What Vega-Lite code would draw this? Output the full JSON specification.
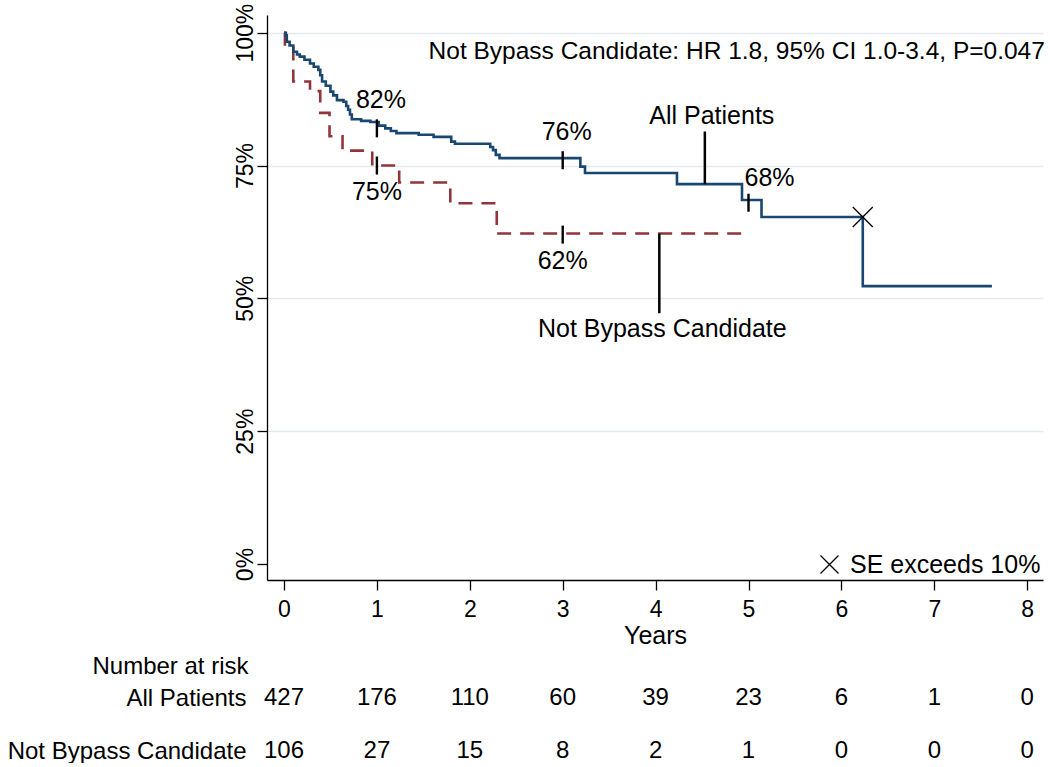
{
  "$schema": "https://vega.github.io/schema/vega-lite/v6.json",
  "autosize": {"type": "pad"},
  "padding": {"left": 7, "top": 3, "right": 0, "bottom": 0},
  "background": "white",
  "config": {
    "font": "Liberation Sans",
    "view": {"stroke": null},
    "text": {"font": "Liberation Sans", "color": "black"},
    "axis": {"labelFont": "Liberation Sans", "titleFont": "Liberation Sans", "labelColor": "black", "titleColor": "black", "domainColor": "black", "tickColor": "black", "domainWidth": 1.3, "tickWidth": 1.3, "labelLimit": 0},
    "legend": {"labelFont": "Liberation Sans", "labelLimit": 0}
  },
  "datasets": {
    "blue": [
      {"t": 0, "S": 100}, {"t": 0.02, "S": 99.5}, {"t": 0.03, "S": 98.3}, {"t": 0.06, "S": 97.6},
      {"t": 0.1, "S": 96.4}, {"t": 0.14, "S": 95.9}, {"t": 0.17, "S": 95.5}, {"t": 0.22, "S": 94.9},
      {"t": 0.28, "S": 94.2}, {"t": 0.32, "S": 93.6}, {"t": 0.37, "S": 93.0}, {"t": 0.39, "S": 92.0},
      {"t": 0.41, "S": 90.8}, {"t": 0.45, "S": 90.0}, {"t": 0.5, "S": 88.9}, {"t": 0.53, "S": 88.2},
      {"t": 0.57, "S": 87.3}, {"t": 0.64, "S": 87.0}, {"t": 0.67, "S": 86.2}, {"t": 0.69, "S": 85.5},
      {"t": 0.71, "S": 84.6}, {"t": 0.73, "S": 83.7}, {"t": 0.83, "S": 83.4}, {"t": 0.93, "S": 83.2},
      {"t": 1.02, "S": 82.5}, {"t": 1.09, "S": 82.0}, {"t": 1.15, "S": 81.5}, {"t": 1.21, "S": 81.1},
      {"t": 1.45, "S": 80.8}, {"t": 1.61, "S": 80.4}, {"t": 1.8, "S": 79.5}, {"t": 1.84, "S": 79.1},
      {"t": 2.22, "S": 78.5}, {"t": 2.25, "S": 77.9}, {"t": 2.28, "S": 77.0}, {"t": 2.32, "S": 76.4},
      {"t": 3.19, "S": 74.8}, {"t": 3.24, "S": 73.6}, {"t": 4.23, "S": 71.5}, {"t": 4.93, "S": 68.5},
      {"t": 5.14, "S": 65.3}, {"t": 6.23, "S": 52.3}, {"t": 7.62, "S": 52.3}
    ],
    "red": [
      {"t": 0, "S": 100}, {"t": 0.01, "S": 97.2}, {"t": 0.1, "S": 90.8}, {"t": 0.28, "S": 89.0},
      {"t": 0.39, "S": 84.9}, {"t": 0.49, "S": 80.5}, {"t": 0.63, "S": 77.8}, {"t": 0.95, "S": 75.0},
      {"t": 1.24, "S": 71.8}, {"t": 1.79, "S": 67.9}, {"t": 2.29, "S": 62.2}, {"t": 4.96, "S": 62.2}
    ],
    "marks": [
      {"t": 1, "S": 82, "lab": "82%", "pos": "above"},
      {"t": 3, "S": 76, "lab": "76%", "pos": "above"},
      {"t": 5, "S": 68, "lab": "68%", "pos": "right"},
      {"t": 1, "S": 75, "lab": "75%", "pos": "below"},
      {"t": 3, "S": 62, "lab": "62%", "pos": "below"}
    ],
    "leaders": [
      {"t": 4.53, "S": 71.5, "S2": 81.4, "lab": "All Patients", "side": "up"},
      {"t": 4.04, "S": 62.2, "S2": 47.2, "lab": "Not Bypass Candidate", "side": "down"}
    ],
    "note": [{"t": 8.19, "S": 95, "lab": "Not Bypass Candidate: HR 1.8, 95% CI 1.0-3.4, P=0.047"}],
    "se": [{"t": 6.23, "S": 65.3, "note": "SE exceeds 10%"}],
    "risk": [
      {"grp": "All Patients", "t": 0, "n": 427}, {"grp": "All Patients", "t": 1, "n": 176},
      {"grp": "All Patients", "t": 2, "n": 110}, {"grp": "All Patients", "t": 3, "n": 60},
      {"grp": "All Patients", "t": 4, "n": 39}, {"grp": "All Patients", "t": 5, "n": 23},
      {"grp": "All Patients", "t": 6, "n": 6}, {"grp": "All Patients", "t": 7, "n": 1},
      {"grp": "All Patients", "t": 8, "n": 0},
      {"grp": "Not Bypass Candidate", "t": 0, "n": 106}, {"grp": "Not Bypass Candidate", "t": 1, "n": 27},
      {"grp": "Not Bypass Candidate", "t": 2, "n": 15}, {"grp": "Not Bypass Candidate", "t": 3, "n": 8},
      {"grp": "Not Bypass Candidate", "t": 4, "n": 2}, {"grp": "Not Bypass Candidate", "t": 5, "n": 1},
      {"grp": "Not Bypass Candidate", "t": 6, "n": 0}, {"grp": "Not Bypass Candidate", "t": 7, "n": 0},
      {"grp": "Not Bypass Candidate", "t": 8, "n": 0}
    ]
  },
  "spacing": 6,
  "resolve": {"scale": {"x": "independent", "y": "independent", "shape": "independent"}, "legend": {"shape": "independent"}},
  "vconcat": [
    {
      "width": 776,
      "height": 565,
      "encoding": {
        "x": {
          "field": "t", "type": "quantitative",
          "scale": {"domain": [-0.183, 8.17], "nice": false, "zero": false},
          "axis": {"values": [0, 1, 2, 3, 4, 5, 6, 7, 8], "title": "Years", "titleFontSize": 25, "titleFontWeight": "normal", "titlePadding": 2, "labelFontSize": 23, "labelPadding": 8, "tickSize": 10, "labelFlush": false, "grid": false}
        },
        "y": {
          "field": "S", "type": "quantitative",
          "scale": {"domain": [-3.01, 103.33], "nice": false, "zero": false},
          "axis": {"values": [0, 25, 50, 75, 100], "title": null, "labelExpr": "datum.value + '%'", "labelAngle": -90, "labelAlign": "center", "labelBaseline": "bottom", "labelFontSize": 23, "labelPadding": 0, "tickSize": 10,
                   "grid": true, "gridColor": "#e2eaee", "gridWidth": 1.6, "gridOpacity": {"condition": {"test": "datum.value === 0", "value": 0}, "value": 1}}
        }
      },
      "layer": [
        {"data": {"name": "red"}, "mark": {"type": "line", "interpolate": "step-after", "color": "#90353b", "strokeWidth": 2.6, "strokeDash": [14, 9]}},
        {"data": {"name": "blue"}, "mark": {"type": "line", "interpolate": "step-after", "color": "#1a476f", "strokeWidth": 2.6}},
        {"data": {"name": "marks"}, "mark": {"type": "tick", "orient": "vertical", "size": 18, "thickness": 2.4, "color": "black", "opacity": 1}},
        {"data": {"name": "marks"}, "transform": [{"filter": "datum.pos === 'above'"}], "mark": {"type": "text", "fontSize": 25, "dy": -28, "dx": 4, "baseline": "middle"}, "encoding": {"text": {"field": "lab", "type": "nominal"}}},
        {"data": {"name": "marks"}, "transform": [{"filter": "datum.pos === 'below'"}], "mark": {"type": "text", "fontSize": 25, "dy": 26, "dx": 0, "baseline": "middle"}, "encoding": {"text": {"field": "lab", "type": "nominal"}}},
        {"data": {"name": "marks"}, "transform": [{"filter": "datum.pos === 'right'"}], "mark": {"type": "text", "fontSize": 25, "dy": -25, "dx": -4, "align": "left", "baseline": "middle"}, "encoding": {"text": {"field": "lab", "type": "nominal"}}},
        {"data": {"name": "leaders"}, "mark": {"type": "rule", "color": "black", "strokeWidth": 2.5}, "encoding": {"y2": {"field": "S2"}}},
        {"data": {"name": "leaders"}, "transform": [{"filter": "datum.side === 'up'"}], "mark": {"type": "text", "fontSize": 25, "dy": -8, "dx": 7, "baseline": "alphabetic"}, "encoding": {"y": {"field": "S2", "type": "quantitative"}, "text": {"field": "lab", "type": "nominal"}}},
        {"data": {"name": "leaders"}, "transform": [{"filter": "datum.side === 'down'"}], "mark": {"type": "text", "fontSize": 25, "dy": 4, "dx": 3, "baseline": "top"}, "encoding": {"y": {"field": "S2", "type": "quantitative"}, "text": {"field": "lab", "type": "nominal"}}},
        {"data": {"name": "note"}, "mark": {"type": "text", "fontSize": 24.5, "align": "right", "baseline": "alphabetic", "color": "black"}, "encoding": {"text": {"field": "lab", "type": "nominal"}}},
        {"data": {"name": "se"}, "mark": {"type": "point", "filled": false, "color": "black", "size": 400, "strokeWidth": 1.3, "opacity": 1},
         "encoding": {"shape": {"field": "note", "type": "nominal", "scale": {"range": ["M-1,-1L1,1M1,-1L-1,1"]},
           "legend": {"title": null, "orient": "bottom-right", "offset": 2, "padding": 0, "labelFontSize": 25, "labelColor": "black", "labelOffset": 8, "symbolSize": 324, "symbolStrokeColor": "black", "symbolFillColor": "transparent", "symbolStrokeWidth": 1.3, "symbolOpacity": 1}}}}
      ]
    },
    {
      "width": 776,
      "height": 53,
      "data": {"name": "risk"},
      "mark": {"type": "text", "fontSize": 24, "color": "black", "baseline": "middle"},
      "encoding": {
        "x": {"field": "t", "type": "quantitative", "scale": {"domain": [-0.183, 8.17], "nice": false, "zero": false}, "axis": null},
        "y": {"field": "grp", "type": "nominal", "sort": ["All Patients", "Not Bypass Candidate"], "scale": {"type": "point", "padding": 0},
              "axis": {"domain": false, "ticks": false, "labelFontSize": 24, "labelPadding": 21, "labelColor": "black", "labelBaseline": "middle",
                       "title": "Number at risk", "titleFontSize": 24, "titleFontWeight": "normal", "titleAngle": 0, "titleAlign": "right", "titleBaseline": "middle", "titleX": -19, "titleY": -32}},
        "text": {"field": "n", "type": "quantitative"}
      }
    }
  ]
}
